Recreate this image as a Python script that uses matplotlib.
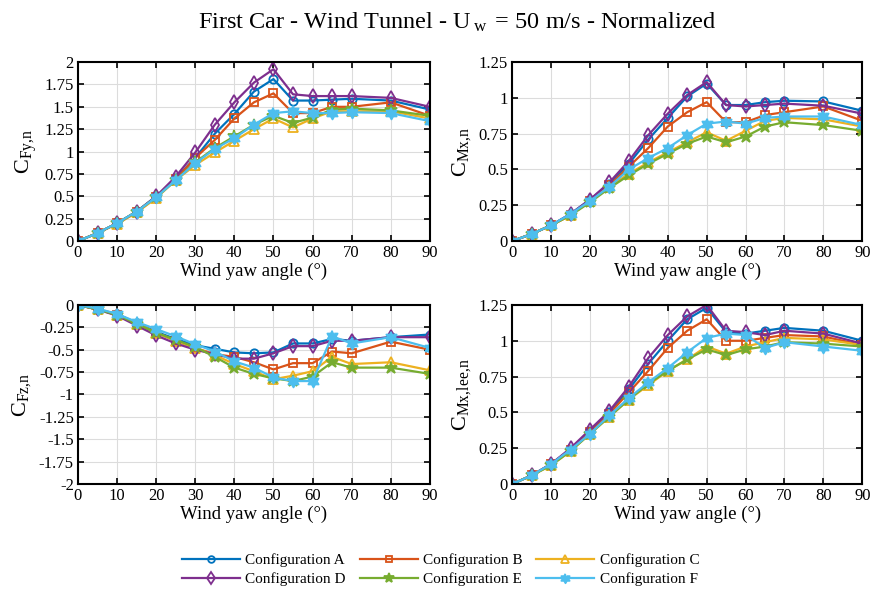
import numpy as np
import matplotlib
matplotlib.use("Agg")
import matplotlib.pyplot as plt
from matplotlib.ticker import FuncFormatter, MultipleLocator

plt.rcParams['font.family'] = ['Liberation Serif', 'DejaVu Serif']
plt.rcParams['mathtext.fontset'] = 'custom'
plt.rcParams['mathtext.rm'] = 'Liberation Serif'
plt.rcParams['mathtext.it'] = 'Liberation Serif:italic'

yaw = [0, 5, 10, 15, 20, 25, 30, 35, 40, 45, 50, 55, 60, 65, 70, 80, 90]
configs = ["Configuration A", "Configuration B", "Configuration C",
           "Configuration D", "Configuration E", "Configuration F"]

cfy = {
    "A": [0, 0.09, 0.2, 0.33, 0.5, 0.7, 0.93, 1.2, 1.42, 1.67, 1.81, 1.57, 1.57, 1.58, 1.59, 1.57, 1.47],
    "B": [0, 0.09, 0.2, 0.32, 0.49, 0.69, 0.93, 1.13, 1.37, 1.55, 1.65, 1.43, 1.43, 1.5, 1.5, 1.55, 1.4],
    "C": [0, 0.09, 0.19, 0.32, 0.48, 0.68, 0.85, 0.99, 1.12, 1.25, 1.37, 1.27, 1.37, 1.45, 1.45, 1.45, 1.37],
    "D": [0, 0.09, 0.2, 0.33, 0.5, 0.72, 0.99, 1.3, 1.55, 1.77, 1.92, 1.64, 1.62, 1.62, 1.62, 1.6, 1.5],
    "E": [0, 0.09, 0.2, 0.33, 0.49, 0.68, 0.88, 1.04, 1.17, 1.3, 1.4, 1.32, 1.38, 1.47, 1.48, 1.46, 1.4],
    "F": [0, 0.09, 0.2, 0.33, 0.49, 0.68, 0.87, 1.03, 1.15, 1.3, 1.43, 1.45, 1.43, 1.43, 1.44, 1.43, 1.34],
}
cmx = {
    "A": [0, 0.05, 0.11, 0.19, 0.29, 0.4, 0.54, 0.71, 0.86, 1.01, 1.1, 0.95, 0.95, 0.97, 0.98, 0.975, 0.91],
    "B": [0, 0.05, 0.11, 0.18, 0.28, 0.39, 0.52, 0.65, 0.8, 0.9, 0.97, 0.83, 0.83, 0.88, 0.9, 0.94, 0.84],
    "C": [0, 0.05, 0.11, 0.18, 0.28, 0.38, 0.47, 0.55, 0.62, 0.69, 0.76, 0.7, 0.77, 0.84, 0.86, 0.85, 0.8],
    "D": [0, 0.05, 0.11, 0.19, 0.29, 0.41, 0.56, 0.74, 0.89, 1.02, 1.11, 0.95, 0.94, 0.95, 0.96, 0.945, 0.89],
    "E": [0, 0.05, 0.11, 0.18, 0.27, 0.37, 0.46, 0.54, 0.61, 0.68, 0.73, 0.69, 0.73, 0.8, 0.83, 0.81, 0.77],
    "F": [0, 0.05, 0.11, 0.19, 0.28, 0.38, 0.5, 0.58, 0.65, 0.74, 0.82, 0.835, 0.82, 0.86, 0.87, 0.87, 0.81],
}
cfz = {
    "A": [0, -0.05, -0.1, -0.2, -0.3, -0.38, -0.45, -0.49, -0.53, -0.54, -0.53, -0.43, -0.43, -0.38, -0.4, -0.36, -0.33],
    "B": [0, -0.05, -0.11, -0.21, -0.31, -0.4, -0.48, -0.55, -0.58, -0.64, -0.72, -0.65, -0.65, -0.52, -0.54, -0.41, -0.5],
    "C": [0, -0.05, -0.11, -0.21, -0.31, -0.4, -0.48, -0.56, -0.66, -0.74, -0.83, -0.79, -0.74, -0.58, -0.66, -0.64, -0.73],
    "D": [0, -0.05, -0.12, -0.23, -0.34, -0.43, -0.5, -0.55, -0.6, -0.6, -0.54, -0.46, -0.46, -0.4, -0.4, -0.36, -0.36],
    "E": [0, -0.05, -0.11, -0.21, -0.31, -0.39, -0.47, -0.58, -0.7, -0.77, -0.82, -0.85, -0.8, -0.64, -0.7, -0.7, -0.77],
    "F": [0, -0.04, -0.1, -0.19, -0.27, -0.35, -0.44, -0.52, -0.63, -0.7, -0.81, -0.85, -0.85, -0.35, -0.43, -0.36, -0.48],
}
cmxlee = {
    "A": [0, 0.06, 0.14, 0.24, 0.37, 0.5, 0.66, 0.84, 1.0, 1.15, 1.23, 1.06, 1.05, 1.07, 1.09, 1.07, 1.0],
    "B": [0, 0.06, 0.14, 0.24, 0.36, 0.49, 0.64, 0.79, 0.95, 1.07, 1.15, 1.0, 1.0, 1.02, 1.04, 1.03, 0.97],
    "C": [0, 0.06, 0.13, 0.23, 0.35, 0.47, 0.59, 0.69, 0.79, 0.87, 0.96, 0.91, 0.96, 0.99, 1.02, 1.01, 0.97],
    "D": [0, 0.06, 0.14, 0.25, 0.38, 0.51, 0.68, 0.88, 1.04, 1.17, 1.25, 1.07, 1.06, 1.04, 1.07, 1.05, 0.98],
    "E": [0, 0.06, 0.13, 0.23, 0.35, 0.47, 0.59, 0.7, 0.79, 0.87, 0.94, 0.9, 0.94, 0.96, 0.99, 0.98, 0.96],
    "F": [0, 0.06, 0.14, 0.24, 0.35, 0.48, 0.6, 0.71, 0.81, 0.92, 1.02, 1.05, 1.04, 0.95, 0.99, 0.96, 0.93],
}

colors = {"A": "#0072BD", "B": "#D95319", "C": "#EDB120",
          "D": "#7E2F8E", "E": "#77AC30", "F": "#4DBEEE"}

# six-pointed star like MATLAB's hexagram
ang = np.pi / 2 + np.arange(12) * np.pi / 6
rad = np.where(np.arange(12) % 2 == 0, 1.0, 0.577)
hexagram = np.column_stack([rad * np.cos(ang), rad * np.sin(ang)])
markers = {"A": "o", "B": "s", "C": "^", "D": "d", "E": "*", "F": hexagram}
msizes = {"A": 6, "B": 6, "C": 7, "D": 7.5, "E": 9, "F": 8.5}

fig = plt.figure(figsize=(8.71, 5.91), dpi=100)
fig.suptitle(r"First Car - Wind Tunnel - U$\,_{\mathrm{w}}\,$ = 50 m/s - Normalized",
             fontsize=17.5, x=0.525, y=0.982)

panels = [
    (cfy, r"C$_{\mathrm{Fy,\!n}}$", (0, 2), [0.0895, 0.592, 0.404, 0.303]),
    (cmx, r"C$_{\mathrm{Mx,\!n}}$", (0, 1.25), [0.588, 0.592, 0.402, 0.303]),
    (cfz, r"C$_{\mathrm{Fz,\!n}}$", (-2, 0), [0.0895, 0.181, 0.404, 0.303]),
    (cmxlee, r"C$_{\mathrm{Mx,\!lee,\!n}}$", (0, 1.25), [0.588, 0.181, 0.402, 0.303]),
]

fmt = FuncFormatter(lambda v, p: "%g" % round(v, 4))
handles = {}
for data, ylab, ylim, rect in panels:
    ax = fig.add_axes(rect)
    for k in ["A", "B", "C", "D", "E", "F"]:
        fill = "none" if k in ("A", "B", "C", "D") else colors[k]
        h, = ax.plot(yaw, data[k], color=colors[k], marker=markers[k],
                     markersize=msizes[k], markerfacecolor=fill,
                     markeredgewidth=1.3, linewidth=1.6)
        handles[k] = h
    ax.set_xlim(0, 90)
    ax.set_ylim(*ylim)
    ax.xaxis.set_major_locator(MultipleLocator(10))
    ax.yaxis.set_major_locator(MultipleLocator(0.25))
    ax.yaxis.set_major_formatter(fmt)
    ax.grid(True, color="#dcdcdc", linewidth=0.8)
    ax.set_axisbelow(True)
    ax.tick_params(direction="in", top=True, right=True, labelsize=12,
                   length=4, width=1.2, pad=3)
    for s in ax.spines.values():
        s.set_linewidth(1.5)
    ax.set_xlabel("Wind yaw angle (°)", fontsize=13.5, labelpad=1)
    ax.set_ylabel(ylab, fontsize=16, labelpad=4)

order = ["A", "D", "B", "E", "C", "F"]
labels = {"A": configs[0], "B": configs[1], "C": configs[2],
          "D": configs[3], "E": configs[4], "F": configs[5]}
fig.legend([handles[k] for k in order], [labels[k] for k in order],
           ncol=3, loc="center", bbox_to_anchor=(0.506, 0.036),
           frameon=False, fontsize=11, handlelength=3.8,
           columnspacing=0.9, handletextpad=0.35, labelspacing=0.35,
           markerscale=0.8)

fig.savefig("out.png", dpi=100)
